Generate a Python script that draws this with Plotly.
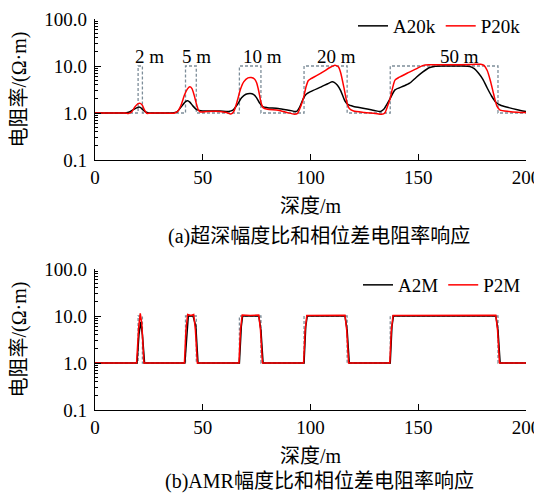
import math
import plotly.graph_objects as go

# ---- formation model (layer boundaries, m) ----
model_depth = [0, 20, 20, 22, 22, 42, 42, 47, 47, 67, 67, 77, 77, 97, 97, 117, 117, 137, 137, 187, 187, 200]
model_res = [1, 1, 10, 10, 1, 1, 10, 10, 1, 1, 10, 10, 1, 1, 10, 10, 1, 1, 10, 10, 1, 1]

# ---- (a) ultra-deep responses ----
a20k_depth = [0, 10, 14, 16, 18, 20, 21, 22, 23.5, 25, 30, 36, 38, 40, 42, 43, 44, 45.5, 47, 49, 52, 58, 62,
              64, 66, 68, 70, 72, 73.5, 75, 76.5, 78, 80, 85, 90, 93.5, 95, 96.7, 98, 100, 105, 108, 110, 111,
              112.5, 114, 116, 117.5, 120, 125, 130, 132.5, 134, 135.5, 137, 139.2, 143, 146, 149, 152, 155,
              158, 162, 170, 174, 176, 178, 180, 182, 184, 186, 188, 192, 196, 200]
a20k_res = [1.0, 1.0, 1.0, 1.05, 1.2, 1.33, 1.32, 1.2, 1.05, 1.0, 1.0, 1.0, 1.05, 1.35, 1.75, 1.83, 1.7, 1.4,
            1.2, 1.12, 1.1, 1.1, 1.08, 1.15, 1.5, 2.1, 2.5, 2.6, 2.5, 2.1, 1.6, 1.35, 1.3, 1.25, 1.15, 1.08,
            1.35, 2.05, 2.5, 2.85, 3.6, 4.2, 4.6, 4.5, 3.9, 3.0, 1.8, 1.5, 1.38, 1.25, 1.12, 1.08, 1.2, 1.55,
            2.05, 3.1, 3.7, 4.3, 5.7, 7.4, 9.2, 9.9, 10.0, 10.0, 9.8, 8.8, 7.0, 5.2, 3.4, 2.3, 1.7, 1.48,
            1.3, 1.17, 1.07]

p20k_depth = [0, 14, 15.5, 17, 18.5, 20, 21, 22, 23, 24, 25.5, 30, 37, 38.5, 40, 41.5, 43, 44, 45, 46, 47,
              48, 49, 52, 58, 61, 63, 64.5, 66, 67.5, 69, 71, 72.5, 74, 75, 76, 77, 78, 80, 85, 89, 92.5,
              94, 95.5, 96.7, 98, 99, 100, 103, 106, 109, 111, 112, 113, 114, 115.5, 117, 118, 120, 125,
              130, 133, 134.5, 136, 137, 138, 139.2, 141, 145, 149, 152, 155, 165, 175, 179, 180.5, 182,
              183.5, 185, 186.5, 188, 192, 196, 200]
p20k_res = [1.0, 1.0, 0.98, 1.05, 1.35, 1.58, 1.6, 1.45, 1.15, 0.98, 0.99, 1.0, 1.0, 1.1, 1.5, 2.4, 3.3,
            3.6, 3.3, 2.4, 1.6, 1.15, 1.05, 1.08, 1.08, 1.02, 0.95, 1.1, 1.8, 3.2, 4.6, 5.6, 5.7, 5.3, 4.4,
            2.9, 1.7, 1.3, 1.2, 1.15, 1.03, 0.94, 0.98, 1.4, 2.05, 3.7, 4.9, 5.3, 6.3, 7.6, 9.3, 10.3,
            10.2, 9.5, 7.2, 3.5, 1.6, 1.25, 1.1, 1.03, 0.98, 0.94, 1.0, 1.5, 2.05, 3.3, 5.0, 5.7, 7.1,
            8.7, 10.2, 10.6, 10.6, 10.8, 10.9, 10.3, 8.0, 4.8, 2.5, 1.4, 1.15, 1.08, 1.04, 1.02]

# ---- (b) AMR responses ----
a2m_depth = [0, 19.5, 20.4, 21.2, 22.0, 23.0, 41.7, 42.6, 43.3, 45.5, 46.8, 47.8, 67.0, 67.9, 68.5, 76.0,
             77.0, 78.0, 97.0, 97.8, 98.5, 116.0, 117.0, 118.0, 137.0, 137.8, 138.5, 186.0, 187.0, 188.0, 200]
a2m_res = [1, 1, 4, 7.5, 4, 1, 1, 5, 10, 10, 6, 1, 1, 6, 10, 10, 5, 1, 1, 6, 10, 10, 5, 1, 1, 6, 10, 10,
           5, 1, 1]

p2m_depth = [0, 19.3, 20.3, 21.0, 21.7, 22.7, 41.5, 42.2, 43.0, 44.5, 45.8, 46.6, 47.5, 66.8, 67.5, 68.3,
             72.0, 76.0, 76.8, 77.7, 96.8, 97.5, 98.3, 107.0, 116.0, 116.8, 117.7, 136.8, 137.5, 138.3,
             162.0, 186.0, 186.8, 187.7, 200]
p2m_res = [1, 1, 6, 11.4, 7, 1, 1, 5, 10.8, 10.3, 10.8, 5, 1, 1, 5, 10.5, 10.2, 10.5, 5, 1, 1, 5, 10.3,
           10.2, 10.4, 5, 1, 1, 5, 10.3, 10.2, 10.4, 5, 1, 1]

layer_labels = ["2 m", "5 m", "10 m", "20 m", "50 m"]
layer_label_x = [25.5, 47.3, 77.6, 112, 169]
layer_label_y = [16.3, 16.3, 16.3, 16.3, 16.3]

x_ticks = [0, 50, 100, 150, 200]
y_ticks = [0.1, 1, 10, 100]
y_ticktext = ["0.1", "1.0", "10.0", "100.0"]
y_minor = [m * d for d in [0.1, 1, 10] for m in range(2, 10)]

FONT = "Liberation Serif, Noto Sans CJK SC, serif"
DASH_COLOR = "#7d8d99"

# page body has an 8 px default margin: size the figure so it ends at the window edge
W, H = 534, 491
OFF = 8


def px(x):
    return (x - OFF) / W


def py(y):
    return 1 - (y - OFF) / H


fig = go.Figure()

for xa, ya in [("x", "y"), ("x2", "y2")]:
    fig.add_trace(go.Scatter(x=model_depth, y=model_res, mode="lines", xaxis=xa, yaxis=ya,
                             line=dict(color=DASH_COLOR, width=1.3, dash="3px,2px"),
                             showlegend=False, hoverinfo="skip"))

fig.add_trace(go.Scatter(x=a20k_depth, y=a20k_res, mode="lines", name="A20k", xaxis="x", yaxis="y",
                         line=dict(color="black", width=1.5, shape="spline", smoothing=0.6), legend="legend"))
fig.add_trace(go.Scatter(x=p20k_depth, y=p20k_res, mode="lines", name="P20k", xaxis="x", yaxis="y",
                         line=dict(color="#ff0000", width=1.5, shape="spline", smoothing=0.6), legend="legend"))
fig.add_trace(go.Scatter(x=a2m_depth, y=a2m_res, mode="lines", name="A2M", xaxis="x2", yaxis="y2",
                         line=dict(color="black", width=1.5), legend="legend2"))
fig.add_trace(go.Scatter(x=p2m_depth, y=p2m_res, mode="lines", name="P2M", xaxis="x2", yaxis="y2",
                         line=dict(color="#ff0000", width=1.5), legend="legend2"))

xdom = [px(95), px(526)]
ydom_a = [py(160), py(19)]
ydom_b = [py(410), py(269)]

xcommon = dict(range=[0, 200], tickvals=x_ticks, ticks="inside", ticklen=6, tickwidth=1, tickcolor="black",
               showline=True, linecolor="black", linewidth=1.2, showgrid=False, zeroline=False,
               tickfont=dict(family=FONT, size=19, color="black"), domain=xdom,
               title=dict(text="深度/m", font=dict(family=FONT, size=20, color="black"), standoff=12))
ycommon = dict(type="log", range=[-1, 2], tickvals=y_ticks, ticktext=y_ticktext, ticks="inside", ticklen=6,
               tickwidth=1, tickcolor="black", showline=True, linecolor="black", linewidth=1.2,
               showgrid=False, zeroline=False, tickfont=dict(family=FONT, size=19, color="black"),
               ticklabelstandoff=3,
               minor=dict(tickvals=y_minor, ticks="inside", ticklen=3, tickcolor="black", showgrid=False),
               title=dict(text="电阻率/(Ω·m)", font=dict(family=FONT, size=20, color="black"), standoff=16))

fig.update_layout(
    width=W, height=H, margin=dict(l=0, r=0, t=0, b=0, autoexpand=False),
    paper_bgcolor="white", plot_bgcolor="white",
    xaxis=dict(**xcommon, anchor="y"),
    yaxis=dict(**ycommon, domain=ydom_a, anchor="x"),
    xaxis2=dict(**xcommon, anchor="y2"),
    yaxis2=dict(**ycommon, domain=ydom_b, anchor="x2"),
    legend=dict(orientation="h", x=px(526), xanchor="right", y=py(26), yanchor="middle",
                font=dict(family=FONT, size=19, color="black"), bgcolor="rgba(0,0,0,0)"),
    legend2=dict(orientation="h", x=px(526), xanchor="right", y=py(285), yanchor="middle",
                 font=dict(family=FONT, size=19, color="black"), bgcolor="rgba(0,0,0,0)"),
    showlegend=True,
)

for t, lx, ly in zip(layer_labels, layer_label_x, layer_label_y):
    fig.add_annotation(x=lx, y=math.log10(ly), xref="x", yref="y", text=t, showarrow=False,
                       xanchor="center", yanchor="middle",
                       font=dict(family=FONT, size=19, color="black"))

fig.add_annotation(x=px(319), y=py(237), xref="paper", yref="paper", showarrow=False,
                   xanchor="center", yanchor="middle",
                   text="(a)超深幅度比和相位差电阻率响应", font=dict(family=FONT, size=20, color="black"))
fig.add_annotation(x=px(319), y=py(481), xref="paper", yref="paper", showarrow=False,
                   xanchor="center", yanchor="middle",
                   text="(b)AMR幅度比和相位差电阻率响应", font=dict(family=FONT, size=20, color="black"))

fig.write_html("out.html")
